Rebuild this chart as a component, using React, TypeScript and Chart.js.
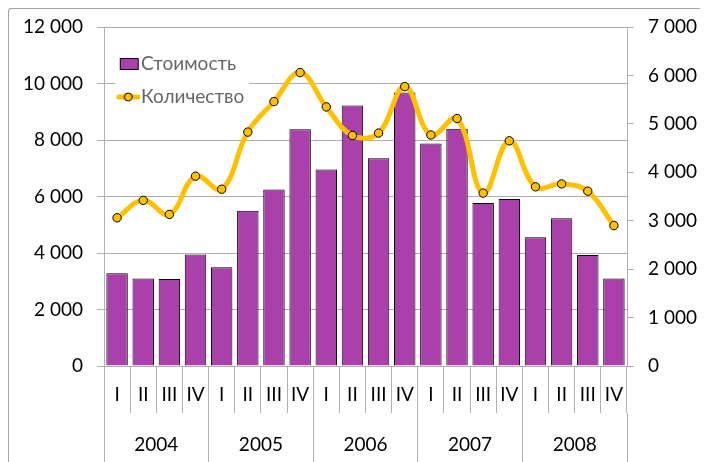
import React, { useEffect, useRef } from "react";
import { Chart, registerables } from "chart.js";

Chart.register(...registerables);

const quarters = ["I", "II", "III", "IV", "I", "II", "III", "IV", "I", "II", "III", "IV", "I", "II", "III", "IV", "I", "II", "III", "IV"];
const years = ["2004", "2005", "2006", "2007", "2008"];
const costValues = [3280, 3100, 3080, 3950, 3500, 5500, 6250, 8380, 6960, 9220, 7350, 9680, 7880, 8400, 5770, 5910, 4560, 5230, 3930, 3100];
const quantityValues = [3060, 3420, 3130, 3920, 3650, 4830, 5460, 6060, 5350, 4760, 4810, 5770, 4770, 5110, 3570, 4650, 3700, 3760, 3610, 2900];
const costLabel = "Стоимость";
const quantityLabel = "Количество";
const leftTicks = { min: 0, max: 12000, step: 2000 };
const rightTicks = { min: 0, max: 7000, step: 1000 };

const BAR_COLOR = "#AA40AA";
const LINE_COLOR = "#FFC000";
const GRID = "#B0B0B0";
const FONT = "Lato, 'Open Sans', 'Noto Sans', sans-serif";

const fmt = (v: number) => {
  const s = Math.round(v).toString();
  return s.length > 3 ? s.slice(0, s.length - 3) + " " + s.slice(-3) : s;
};

function makeBoxIcon() {
  const c = document.createElement("canvas");
  c.width = 30;
  c.height = 14;
  const g = c.getContext("2d")!;
  g.fillStyle = BAR_COLOR;
  g.fillRect(10, 1, 19, 12);
  g.strokeStyle = "#000";
  g.lineWidth = 1;
  g.strokeRect(10.5, 1.5, 18, 11);
  return c;
}

function makeLineIcon() {
  const c = document.createElement("canvas");
  c.width = 30;
  c.height = 12;
  const g = c.getContext("2d")!;
  g.strokeStyle = LINE_COLOR;
  g.lineWidth = 5;
  g.lineCap = "round";
  g.beginPath();
  g.moveTo(9, 6);
  g.lineTo(28, 6);
  g.stroke();
  g.fillStyle = LINE_COLOR;
  g.strokeStyle = "#000";
  g.lineWidth = 1;
  g.beginPath();
  g.arc(18.5, 6, 4, 0, Math.PI * 2);
  g.fill();
  g.stroke();
  return c;
}

const legendBg = {
  id: "legendBg",
  beforeDatasetsDraw(chart: any) {
    const lg = chart.legend;
    if (!lg || !lg.legendHitBoxes || !lg.legendHitBoxes.length) return;
    const hb = lg.legendHitBoxes;
    let l = Infinity, r = -Infinity, t = Infinity, b = -Infinity;
    hb.forEach((h: any) => {
      l = Math.min(l, h.left);
      r = Math.max(r, h.left + h.width);
      t = Math.min(t, h.top);
      b = Math.max(b, h.top + h.height);
    });
    const ctx = chart.ctx;
    ctx.save();
    ctx.fillStyle = "#fff";
    ctx.fillRect(l - 3, t - 10, r - l + 8, b - t + 20);
    ctx.restore();
    lg.draw();
  },
};

export default function App() {
  const ref = useRef<HTMLCanvasElement>(null);
  useEffect(() => {
    if (!ref.current) return;
    const boxIcon = makeBoxIcon();
    const lineIcon = makeLineIcon();
    const chart = new Chart(ref.current, {
      type: "bar",
      data: {
        labels: quarters,
        datasets: [
          {
            type: "bar",
            label: costLabel,
            data: costValues,
            backgroundColor: BAR_COLOR,
            borderColor: "#000",
            borderWidth: 1,
            xAxisID: "x",
            yAxisID: "y",
            categoryPercentage: 1,
            barPercentage: 0.82,
            order: 2,
          } as any,
          {
            type: "line",
            label: quantityLabel,
            data: quantityValues,
            borderColor: LINE_COLOR,
            borderWidth: 5,
            tension: 0.4,
            pointRadius: 4.2,
            pointBackgroundColor: LINE_COLOR,
            pointBorderColor: "#000",
            pointBorderWidth: 1,
            xAxisID: "x",
            yAxisID: "y1",
            order: 1,
          } as any,
        ],
      },
      options: {
        animation: false,
        responsive: false,
        layout: { padding: { top: 18, left: 0, right: 0, bottom: 0 } },
        plugins: {
          tooltip: { enabled: false },
          legend: {
            position: "chartArea",
            align: "start",
            title: { display: true, text: " ", font: { size: 1 }, padding: { top: 15, bottom: 15.3 } },
            labels: {
              usePointStyle: true,
              pointStyleWidth: 13.5,
              padding: 14,
              color: "#000",
              font: { family: FONT, size: 19 },
              generateLabels: () => [
                { text: costLabel, pointStyle: boxIcon, datasetIndex: 0, fillStyle: BAR_COLOR, strokeStyle: "#000", lineWidth: 0, hidden: false },
                { text: quantityLabel, pointStyle: lineIcon, datasetIndex: 1, fillStyle: LINE_COLOR, strokeStyle: "#000", lineWidth: 0, hidden: false },
              ] as any,
            },
          },
        },
        scales: {
          x: {
            type: "category",
            position: "bottom",
            offset: true,
            grid: { offset: true, drawOnChartArea: false, drawTicks: true, tickLength: 47, color: GRID },
            border: { display: true, color: GRID },
            ticks: { padding: -30, color: "#000", font: { family: FONT, size: 19 }, maxRotation: 0, autoSkip: false },
            afterFit: (s: any) => { s.height = 47; },
          },
          x2: {
            type: "category",
            position: "bottom",
            labels: years,
            offset: true,
            grid: { offset: true, drawOnChartArea: false, drawTicks: true, tickLength: 49, color: GRID },
            border: { display: false },
            ticks: { padding: -29, color: "#000", font: { family: FONT, size: 19 }, maxRotation: 0, autoSkip: false },
            afterFit: (s: any) => { s.height = 49; },
          },
          y: {
            position: "left",
            min: leftTicks.min,
            max: leftTicks.max,
            grid: { color: GRID, tickLength: 7 },
            border: { color: GRID },
            ticks: { stepSize: leftTicks.step, padding: 14, color: "#000", font: { family: FONT, size: 19 }, callback: (v: any) => fmt(Number(v)) },
            afterFit: (s: any) => { s.width = 95; s.paddingTop = 0; s.paddingBottom = 0; },
          },
          y1: {
            position: "right",
            min: rightTicks.min,
            max: rightTicks.max,
            grid: { drawOnChartArea: false, color: GRID, tickLength: 7 },
            border: { color: GRID },
            ticks: { stepSize: rightTicks.step, padding: 14, color: "#000", font: { family: FONT, size: 19 }, callback: (v: any) => fmt(Number(v)) },
            afterFit: (s: any) => { s.width = 81; s.paddingTop = 0; s.paddingBottom = 0; },
          },
        },
      } as any,
      plugins: [legendBg],
    });
    return () => chart.destroy();
  }, []);
  return (
    <div style={{ borderTop: "1px solid #A6A6A6", borderLeft: "1px solid #A6A6A6", width: 699, height: 453, borderTopLeftRadius: 3 }}>
      <canvas ref={ref} width={699} height={453} style={{ display: "block" }} />
    </div>
  );
}
